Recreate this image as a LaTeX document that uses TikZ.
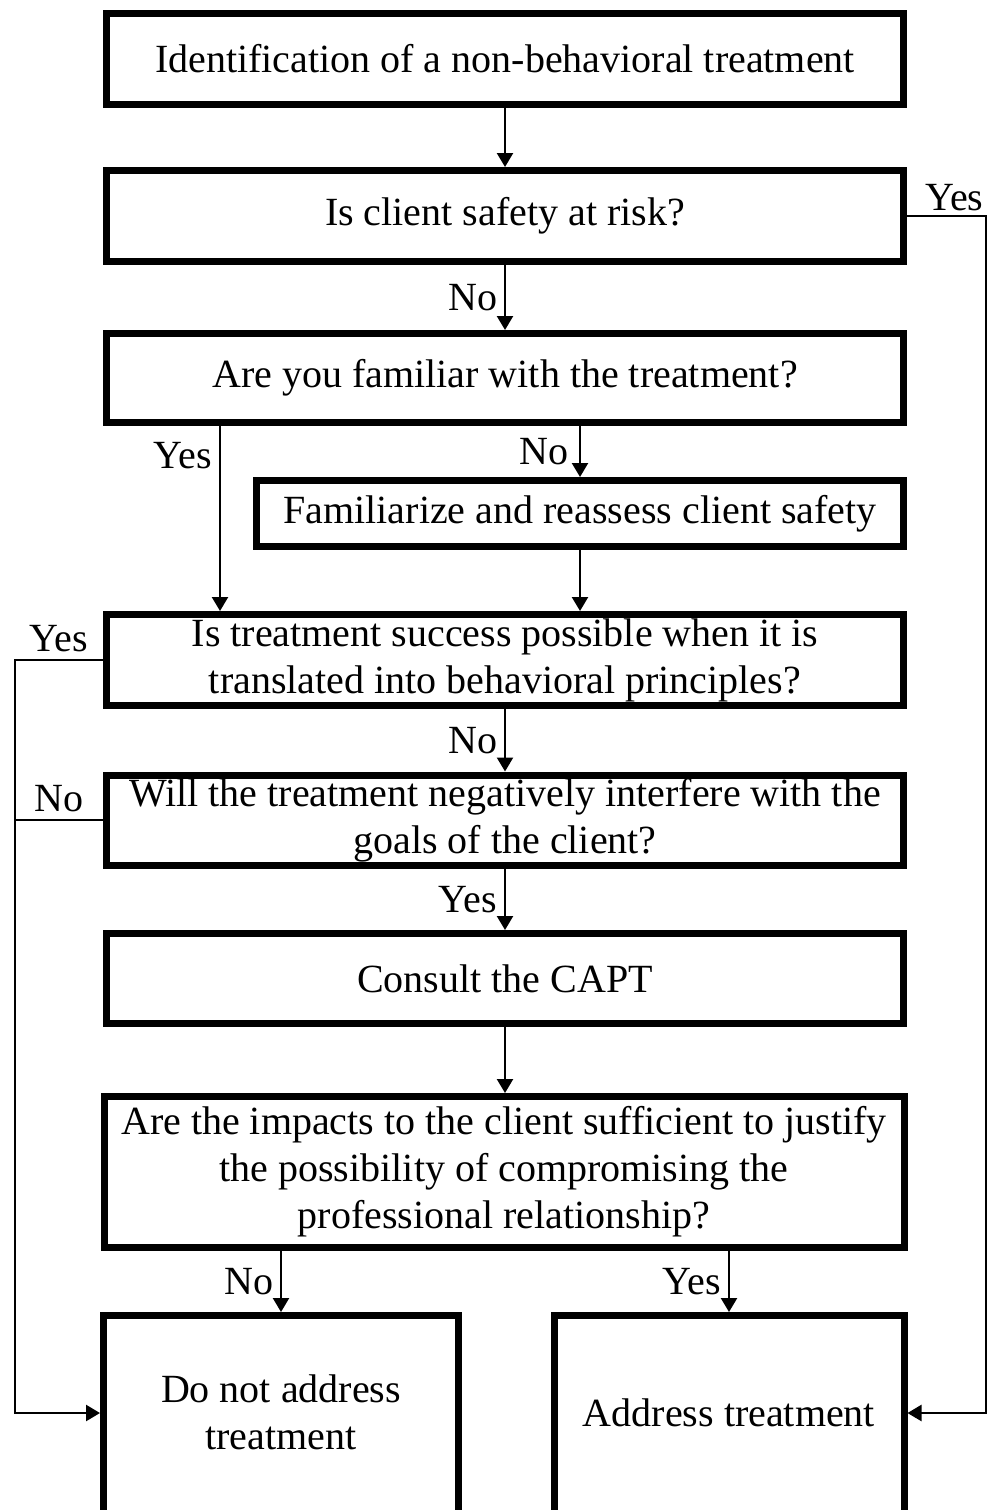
\documentclass[tikz,border=0pt]{standalone}
\usepackage{fontspec}
\setmainfont{Liberation Serif}
\usetikzlibrary{positioning, calc, arrows.meta}

\begin{document}
\begin{tikzpicture}[x=0.5pt, y=-0.5pt, every node/.style={align=center, font=\fontsize{20}{23.5}\selectfont},
  box/.style={draw, line width=3.5pt, minimum width=398.5pt, minimum height=45.5pt, inner sep=0pt},
  link/.style={line width=1.2pt, -{Triangle[length=7pt, width=8pt]}}]
\useasboundingbox (0, 0) rectangle (988, 1510);
\clip (0, 0) rectangle (988, 1510);
\node[box] (ident) at (505, 59) {Identification of a non-behavioral treatment};
\node[box] (safety) at (505, 216) {Is client safety at risk?};
\node[box, minimum height=44.5pt] (familiar) at (505, 378) {Are you familiar with the treatment?};
\node[box, minimum width=323.5pt, minimum height=33pt] (reassess) at (580, 513.5) {Familiarize and reassess client safety};
\node[box] (success) at (505, 660) {Is treatment success possible when it is\\translated into behavioral principles?};
\node[box, minimum height=45pt] (goals) at (505, 820) {Will the treatment negatively interfere with the\\goals of the client?};
\node[box, minimum height=45pt] (capt) at (505, 978.5) {Consult the CAPT};
\node[box, minimum width=400pt, minimum height=75.5pt] (impacts) at (504, 1172) {Are the impacts to the client sufficient to justify\\the possibility of compromising the\\professional relationship?};
\node[box, minimum width=177.5pt, minimum height=103pt, text depth=6pt] (noaddr) at (281, 1418.5) {Do not address\\treatment};
\node[box, minimum width=175pt, minimum height=103pt, text depth=6pt] (addr) at (729, 1418.5) {Address treatment};
\draw[link] (ident) -- (safety);
\draw[link] (safety) -- node[left] {No} (familiar);
\draw[link] (safety.east) -- ++(79, 0) node[pos=.6, above, inner sep=2pt] {Yes} |- ([yshift=2.75pt]addr.east);
\draw[link] ([xshift=58.5pt]familiar.south west) -- node[pos=.16, left] {Yes} ([xshift=58.5pt]success.north west);
\draw[link] (familiar.south -| reassess) -- node[left, xshift=-2pt] {No} (reassess);
\draw[link] (reassess) -- (reassess |- success.north);
\draw[link] (success) -- node[left] {No} (goals);
\draw[link] (success.west) -- ++(-88, 0) node[pos=.5, above] {Yes} |- ([yshift=2.75pt]noaddr.west);
\draw[line width=1.2pt] (goals.west) -- ++(-88, 0) node[pos=.5, above] {No};
\draw[link] (goals) -- node[left] {Yes} (capt);
\draw[link] (capt) -- (capt |- impacts.north);
\draw[link] (impacts.south -| noaddr) -- node[left] {No} (noaddr);
\draw[link] (impacts.south -| addr) -- node[left] {Yes} (addr);
\end{tikzpicture}
\end{document}
